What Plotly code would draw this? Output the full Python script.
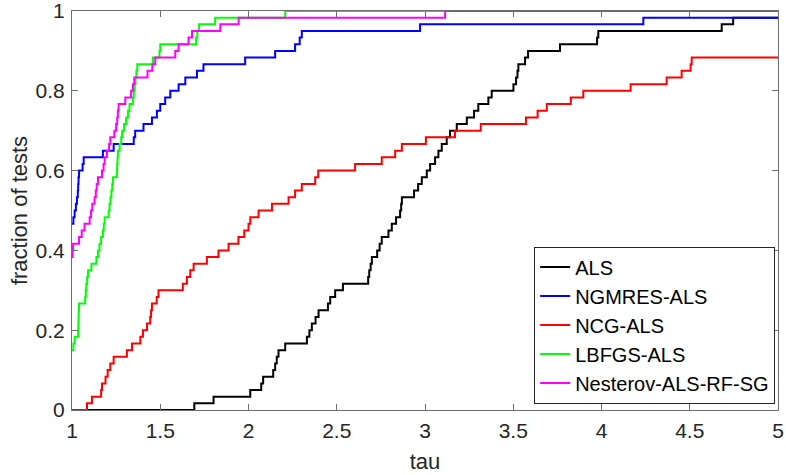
import plotly.graph_objects as go

N_TESTS = 60

# ---- ALS (black) ----
als_tau = [1.0, 1.693, 1.802, 2.010, 2.072, 2.083, 2.140, 2.151, 2.160, 2.170, 2.208, 2.331, 2.345,
           2.359, 2.380, 2.397, 2.450, 2.463, 2.491, 2.535, 2.678, 2.684, 2.692, 2.699, 2.729, 2.743,
           2.755, 2.793, 2.812, 2.836, 2.859, 2.865, 2.869, 2.938, 2.961, 2.982, 3.010, 3.029, 3.057,
           3.076, 3.095, 3.123, 3.142, 3.180, 3.237, 3.278, 3.302, 3.359, 3.378, 3.501, 3.516, 3.524,
           3.529, 3.567, 3.584, 3.765, 3.975, 3.982, 4.681, 4.746, 5.0]
als_cnt = [0, 1, 2, 3, 4, 5, 6, 7, 8, 9, 10, 11, 12,
           13, 14, 15, 16, 17, 18, 19, 20, 21, 22, 23, 24, 25,
           26, 27, 28, 29, 30, 31, 32, 33, 34, 35, 36, 37, 38,
           39, 40, 41, 42, 43, 44, 45, 46, 47, 48, 49, 50, 51,
           52, 53, 54, 55, 56, 57, 58, 59, 59]

# ---- NGMRES-ALS (blue) ----
ngmres_tau = [1.0, 1.008, 1.015, 1.022, 1.028, 1.033, 1.035, 1.037, 1.040, 1.060, 1.066, 1.175,
              1.236, 1.350, 1.358, 1.405, 1.453, 1.481, 1.500, 1.528, 1.557, 1.604, 1.642, 1.708,
              1.745, 1.981, 2.151, 2.264, 2.290, 2.302, 2.972, 4.237, 5.0]
ngmres_cnt = [28, 29, 30, 31, 32, 33, 34, 35, 36, 37, 38, 39,
              40, 41, 42, 43, 44, 45, 46, 47, 48, 49, 50, 51,
              52, 53, 54, 55, 56, 57, 58, 59, 59]

# ---- NCG-ALS (red) ----
ncg_tau = [1.0, 1.085, 1.113, 1.165, 1.170, 1.190, 1.202, 1.217, 1.236, 1.311, 1.340, 1.387, 1.402,
           1.425, 1.443, 1.448, 1.453, 1.480, 1.490, 1.628, 1.651, 1.670, 1.689, 1.764, 1.830, 1.887,
           1.943, 1.976, 2.000, 2.010, 2.057, 2.133, 2.227, 2.264, 2.302, 2.378, 2.395, 2.604, 2.755,
           2.831, 2.869, 3.005, 3.170, 3.316, 3.572, 3.638, 3.690, 3.826, 3.897, 4.165, 4.369, 4.454,
           4.505, 4.511, 5.0]
ncg_cnt = [0, 1, 2, 3, 4, 5, 6, 7, 8, 9, 10, 11, 12,
           13, 14, 15, 16, 17, 18, 19, 20, 21, 22, 23, 24, 25,
           26, 27, 28, 29, 30, 31, 32, 33, 34, 35, 36, 37, 38,
           39, 40, 41, 42, 43, 44, 45, 46, 47, 48, 49, 50, 51,
           52, 53, 53]

# ---- LBFGS-ALS (green) ----
lbfgs_tau = [1.0, 1.008, 1.015, 1.035, 1.036, 1.037, 1.038, 1.040, 1.075, 1.078, 1.081, 1.086,
             1.091, 1.110, 1.138, 1.147, 1.156, 1.165, 1.175, 1.180, 1.185, 1.208, 1.213, 1.218,
             1.223, 1.228, 1.232, 1.254, 1.256, 1.258, 1.260, 1.270, 1.279, 1.284, 1.295, 1.307,
             1.317, 1.326, 1.345, 1.350, 1.355, 1.360, 1.365, 1.370, 1.459, 1.496, 1.500, 1.703,
             1.710, 1.720, 1.811, 2.208, 5.0]
lbfgs_cnt = [9, 10, 11, 12, 13, 14, 15, 16, 17, 18, 19, 20,
             21, 22, 23, 24, 25, 26, 27, 28, 29, 30, 31, 32,
             33, 34, 35, 36, 37, 38, 39, 40, 41, 42, 43, 44,
             45, 46, 47, 48, 49, 50, 51, 52, 53, 54, 55, 56,
             57, 58, 59, 60, 60]

# ---- Nesterov-ALS-RF-SG (magenta) ----
nest_tau = [1.0, 1.003, 1.006, 1.040, 1.055, 1.071, 1.100, 1.108, 1.115, 1.128, 1.135, 1.140,
            1.147, 1.170, 1.179, 1.185, 1.198, 1.210, 1.217, 1.240, 1.250, 1.256, 1.260, 1.264,
            1.302, 1.335, 1.345, 1.353, 1.428, 1.455, 1.472, 1.585, 1.604, 1.660, 1.680, 1.840,
            1.944, 3.114, 5.0]
nest_cnt = [23, 24, 25, 26, 27, 28, 29, 30, 31, 32, 33, 34,
            35, 36, 37, 38, 39, 40, 41, 42, 43, 44, 45, 46,
            47, 48, 49, 50, 51, 52, 53, 54, 55, 56, 57, 58,
            59, 60, 60]

series_names = ["ALS", "NGMRES-ALS", "NCG-ALS", "LBFGS-ALS", "Nesterov-ALS-RF-SG"]
series_tau = [als_tau, ngmres_tau, ncg_tau, lbfgs_tau, nest_tau]
series_cnt = [als_cnt, ngmres_cnt, ncg_cnt, lbfgs_cnt, nest_cnt]
series_colors = ["#000000", "#0000ff", "#ff0000", "#00ff00", "#ff00ff"]

x_ticks = [1, 1.5, 2, 2.5, 3, 3.5, 4, 4.5, 5]
x_ticklabels = ["1", "1.5", "2", "2.5", "3", "3.5", "4", "4.5", "5"]
y_ticks = [0, 0.2, 0.4, 0.6, 0.8, 1]
y_ticklabels = ["0", "0.2", "0.4", "0.6", "0.8", "1"]

FONT = "Liberation Sans, Arial, Helvetica, sans-serif"
TXT = "#262626"
AX = "#6e6e6e"

fig = go.Figure()
for name, t, c, col in zip(series_names, series_tau, series_cnt, series_colors):
    fig.add_trace(go.Scatter(
        x=t, y=[v / N_TESTS for v in c], mode="lines", name=name,
        line=dict(color=col, width=2, shape="hv"),
    ))

axis_common = dict(
    showline=True, linecolor=AX, linewidth=1, mirror="ticks",
    ticks="inside", ticklen=6, tickcolor=AX, tickwidth=1,
    showgrid=False, zeroline=False, automargin=False,
    ticklabeloverflow="allow",
    tickfont=dict(family=FONT, size=21, color=TXT),
)

fig.update_layout(
    width=786, height=475,
    margin=dict(l=72, r=8, t=11, b=65),
    paper_bgcolor="white", plot_bgcolor="white",
    font=dict(family=FONT, color=TXT),
    xaxis=dict(range=[1, 5], tickvals=x_ticks, ticktext=x_ticklabels,
               ticklabelstandoff=2,
               title=dict(text="tau", font=dict(family=FONT, size=22, color=TXT), standoff=12),
               **axis_common),
    yaxis=dict(range=[0, 1], tickvals=y_ticks, ticktext=y_ticklabels,
               ticklabelstandoff=2,
               title=dict(text="fraction of tests", font=dict(family=FONT, size=22, color=TXT), standoff=1),
               **axis_common),
    legend=dict(x=0.996, y=0.016, xanchor="right", yanchor="bottom",
                bgcolor="white", bordercolor=TXT, borderwidth=1,
                font=dict(family=FONT, size=20, color="#000000"),
                tracegroupgap=0, itemwidth=30),
    showlegend=True,
)

# remove the page's default body margin so the figure fills the window exactly
fig.write_html("out.html", config={"displayModeBar": False},
               post_script="document.body.style.margin='0';")
